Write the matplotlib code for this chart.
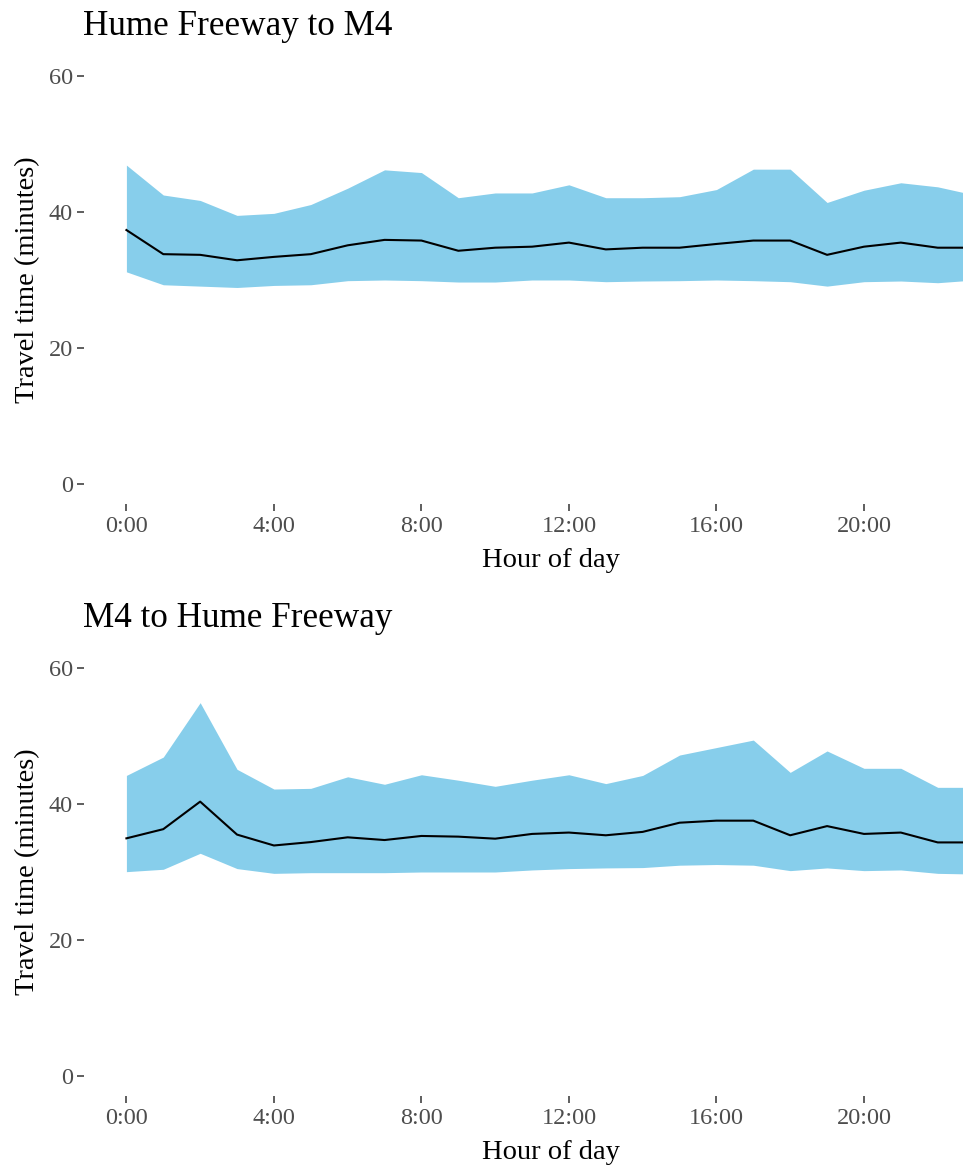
import matplotlib
matplotlib.use("Agg")
import matplotlib.pyplot as plt
import numpy as np

plt.rcParams['font.family'] = ['Liberation Serif', 'DejaVu Serif']

hours = list(range(24))
hour_ticks = [0, 4, 8, 12, 16, 20]
hour_labels = ["0:00", "4:00", "8:00", "12:00", "16:00", "20:00"]
y_ticks = [0, 20, 40, 60]

titles = ["Hume Freeway to M4", "M4 to Hume Freeway"]

# Hume Freeway to M4
h2m_median = [37.35, 33.8, 33.7, 32.9, 33.4, 33.8, 35.1, 35.9, 35.8, 34.3, 34.75, 34.9,
              35.5, 34.5, 34.75, 34.75, 35.3, 35.8, 35.8, 33.7, 34.9, 35.5, 34.75, 34.75]
h2m_low = [31.2, 29.3, 29.1, 28.9, 29.2, 29.3, 29.9, 30.0, 29.9, 29.7, 29.7, 30.0,
           30.0, 29.75, 29.85, 29.9, 30.0, 29.9, 29.75, 29.1, 29.75, 29.85, 29.6, 30.0]
h2m_high = [46.9, 42.5, 41.7, 39.5, 39.8, 41.1, 43.5, 46.2, 45.8, 42.1, 42.8, 42.8,
            44.0, 42.1, 42.1, 42.25, 43.3, 46.3, 46.3, 41.4, 43.2, 44.3, 43.7, 42.5]

# M4 to Hume Freeway
m2h_median = [34.95, 36.3, 40.35, 35.5, 33.9, 34.4, 35.1, 34.7, 35.3, 35.2, 34.9, 35.6,
              35.8, 35.4, 35.9, 37.25, 37.55, 37.55, 35.4, 36.75, 35.6, 35.8, 34.35, 34.35]
m2h_low = [30.05, 30.4, 32.75, 30.5, 29.8, 29.9, 29.9, 29.9, 30.0, 30.0, 30.0, 30.3,
           30.5, 30.6, 30.65, 31.0, 31.1, 31.0, 30.2, 30.6, 30.2, 30.3, 29.8, 29.7]
m2h_high = [44.2, 46.9, 54.9, 45.1, 42.2, 42.3, 44.0, 42.9, 44.3, 43.5, 42.6, 43.5,
            44.3, 43.0, 44.2, 47.2, 48.3, 49.4, 44.65, 47.8, 45.25, 45.25, 42.45, 42.45]

series = [(h2m_low, h2m_median, h2m_high), (m2h_low, m2h_median, m2h_high)]

W, H = 963, 1165
fig = plt.figure(figsize=(W / 100, H / 100), dpi=100)

panel_px = [(84, 1017, 55.6, 504.4), (84, 1017, 647.6, 1096.4)]

for (x0, x1, y0, y1), title, (lo, med, hi) in zip(panel_px, titles, series):
    ax = fig.add_axes([x0 / W, 1 - y1 / H, (x1 - x0) / W, (y1 - y0) / H])
    ax.fill_between(hours, lo, hi, color="#87CEEB", linewidth=0)
    ax.plot(hours, med, color="black", linewidth=1.5)
    ax.set_xlim(-1.15, 24.15)
    ax.set_ylim(-3, 63)
    ax.set_xticks(hour_ticks)
    ax.set_xticklabels(hour_labels)
    ax.set_yticks(y_ticks)
    for s in ax.spines.values():
        s.set_visible(False)
    ax.tick_params(axis="both", length=5, width=1.1, color="#333333",
                   labelcolor="#4D4D4D", labelsize=17.5, pad=3)
    ax.set_xlabel("Hour of day", fontsize=20.5, labelpad=8)
    ax.set_ylabel("Travel time (minutes)", fontsize=20.5, labelpad=6)
    ax.set_title(title, loc="left", fontsize=25.3, pad=15, x=-0.001)

fig.savefig("out.png", dpi=100)
